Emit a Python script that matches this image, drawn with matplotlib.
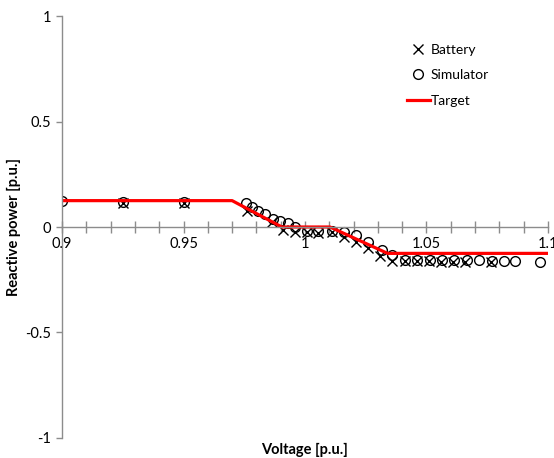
import matplotlib
matplotlib.use("Agg")
import matplotlib.pyplot as plt
import numpy as np

# target characteristic (piecewise linear)
target_v = [0.9, 0.97, 0.9905, 1.0103, 1.034, 1.1]
target_q = [0.125, 0.125, 0.0, 0.0, -0.125, -0.125]

# simulator results
sim_v = [0.9, 0.925, 0.95, 0.9757, 0.978, 0.9808, 0.9835, 0.987, 0.9897, 0.9931, 0.9959,
         1.0007, 1.0055, 1.011, 1.016, 1.021, 1.026, 1.0316, 1.036, 1.0412, 1.0462,
         1.0514, 1.0563, 1.0614, 1.0665, 1.0716, 1.0768, 1.0819, 1.0864, 1.0967]
sim_q = [0.123, 0.117, 0.117, 0.114, 0.096, 0.077, 0.060, 0.039, 0.030, 0.018, 0.001,
         -0.018, -0.018, -0.018, -0.022, -0.038, -0.072, -0.109, -0.133, -0.156, -0.156,
         -0.156, -0.156, -0.156, -0.156, -0.156, -0.159, -0.159, -0.159, -0.164]

# battery measurements
bat_v = [0.925, 0.95, 0.9763, 0.9863, 0.9911, 0.9959, 1.0007, 1.0055, 1.011, 1.016,
         1.021, 1.026, 1.031, 1.036, 1.041, 1.046, 1.051, 1.056, 1.061, 1.066, 1.0765]
bat_q = [0.112, 0.112, 0.075, 0.022, -0.012, -0.022, -0.022, -0.027, -0.022, -0.046,
         -0.070, -0.100, -0.137, -0.161, -0.161, -0.161, -0.161, -0.164, -0.166, -0.164, -0.166]

plt.rcParams['font.family'] = ['Lato', 'DejaVu Sans']

fig = plt.figure(figsize=(5.54, 4.58), dpi=100)
ax = fig.add_axes([0.112, 0.0437, 0.877, 0.9213])

ax.plot(bat_v, bat_q, linestyle='none', marker='x', markersize=6.5,
        markeredgewidth=1.0, color='black', label='Battery')
ax.plot(sim_v, sim_q, linestyle='none', marker='o', markersize=7,
        markerfacecolor='none', markeredgewidth=1.0, markeredgecolor='black',
        label='Simulator')
ax.plot(target_v, target_q, color='#ff0000', linewidth=2.3, label='Target')

ax.set_xlim(0.9, 1.1)
ax.set_ylim(-1, 1)

for s in ['top', 'right']:
    ax.spines[s].set_visible(False)
ax.spines['bottom'].set_position(('data', 0))
ax.spines['left'].set_position(('data', 0.9))
for s in ['bottom', 'left']:
    ax.spines[s].set_color('#8c8c8c')
    ax.spines[s].set_linewidth(1.0)

ax.set_xticks([0.9, 0.95, 1.0, 1.05, 1.1])
ax.set_xticklabels(['0.9', '0.95', '1', '1.05', '1.1'])
ax.set_xticks(np.arange(0.9, 1.1001, 0.01), minor=True)
ax.set_yticks([-1, -0.5, 0, 0.5, 1])
ax.set_yticklabels(['-1', '-0.5', '0', '0.5', '1'])

ax.tick_params(axis='x', which='both', direction='inout', length=8, width=1,
               color='#8c8c8c', labelsize=10.5, pad=3)
ax.tick_params(axis='y', which='major', direction='out', length=4, width=1,
               color='#8c8c8c', labelsize=10.5, pad=4)

ax.set_xlabel('Voltage [p.u.]', fontsize=10.5, fontweight='bold')
ax.xaxis.set_label_coords(0.5, -0.012, transform=ax.transAxes)
ax.xaxis.label.set_verticalalignment('top')
ax.set_ylabel('Reactive power [p.u.]', fontsize=10.5, fontweight='bold')
ax.yaxis.set_label_coords(-0.084, 0.5, transform=ax.transAxes)

ax.legend(loc='upper left', bbox_to_anchor=(0.685, 0.963), frameon=False,
          fontsize=10, handlelength=1.6, labelspacing=0.95, handletextpad=0.1)

fig.savefig('out.png', dpi=100)
